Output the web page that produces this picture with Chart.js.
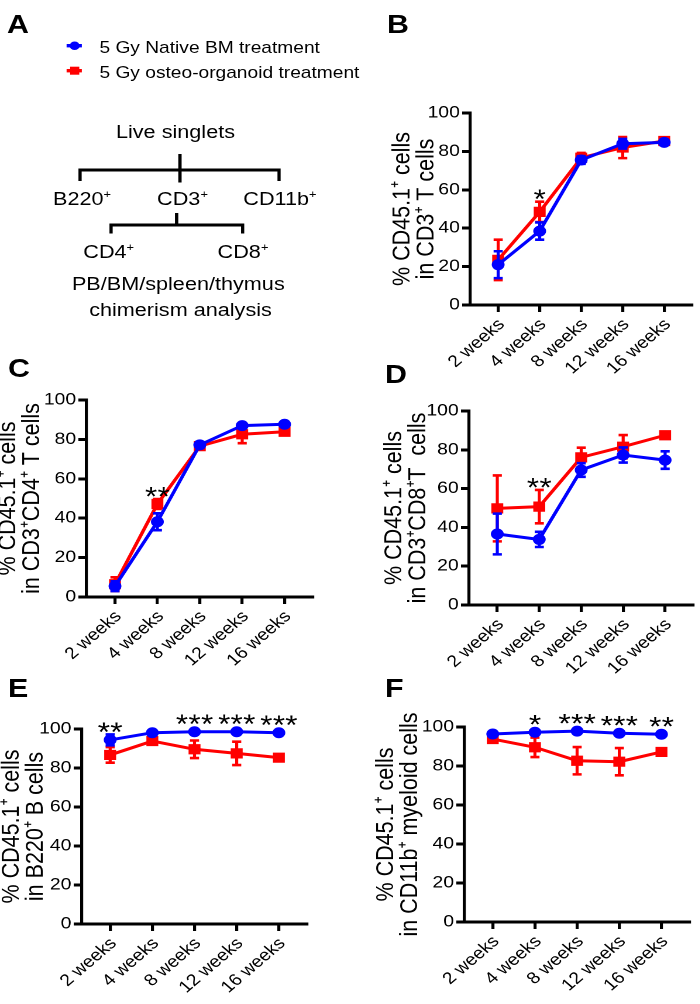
<!DOCTYPE html>
<html><head><meta charset="utf-8">
<script src="https://cdn.jsdelivr.net/npm/chart.js@4.4.1/dist/chart.umd.min.js"></script>
<style>
html,body{margin:0;padding:0;background:#fff;}
body{width:700px;height:1004px;overflow:hidden;position:relative;font-family:'Liberation Sans',Arial,Helvetica,sans-serif;}
#wrap{position:absolute;left:0;top:0;width:599px;height:1004px;transform:scaleX(1.17);transform-origin:0 0;}
#wrap canvas{position:absolute;}
#art{position:absolute;left:0;top:0;z-index:2;}
#art text{font-family:'Liberation Sans',Arial,Helvetica,sans-serif;fill:#000;}
</style></head><body>
<div id="wrap">
<svg id="art" width="599" height="1004" viewBox="0 0 599 1004" xmlns="http://www.w3.org/2000/svg">
  <!-- panel letters -->
  <text x="6" y="33" font-size="26" font-weight="bold">A</text>
  <text x="330.8" y="33" font-size="26" font-weight="bold">B</text>
  <text x="6.8" y="377" font-size="26" font-weight="bold">C</text>
  <text x="329" y="383" font-size="26" font-weight="bold">D</text>
  <text x="6.8" y="697" font-size="26" font-weight="bold">E</text>
  <text x="329" y="697" font-size="26" font-weight="bold">F</text>
  <!-- legend -->
  <line x1="57" y1="45.7" x2="70" y2="45.7" stroke="#0000ff" stroke-width="3.4"/>
  <circle cx="63.8" cy="45.7" r="4.3" fill="#0000ff"/>
  <line x1="57" y1="70.7" x2="70" y2="70.7" stroke="#ff0000" stroke-width="3.4"/>
  <rect x="59.8" y="66.7" width="8" height="8" fill="#ff0000"/>
  <text x="85" y="53.3" font-size="16.4">5 Gy Native BM treatment</text>
  <text x="85" y="78.3" font-size="16.4">5 Gy osteo-organoid treatment</text>
  <!-- gating tree -->
  <text x="150" y="138.3" font-size="18.5" text-anchor="middle">Live singlets</text>
  <path d="M153.8,154 V182.5 M68.4,181 V170 H238.5 V181" fill="none" stroke="#000" stroke-width="2.8"/>
  <text x="70.1" y="205" font-size="18.5" text-anchor="middle">B220<tspan font-size="11" dy="-7">+</tspan></text>
  <text x="156" y="205" font-size="18.5" text-anchor="middle">CD3<tspan font-size="11" dy="-7">+</tspan></text>
  <text x="239.3" y="205" font-size="18.5" text-anchor="middle">CD11b<tspan font-size="11" dy="-7">+</tspan></text>
  <path d="M151,213 V225 M94.9,233.5 V225 H207.4 V233.5" fill="none" stroke="#000" stroke-width="2.8"/>
  <text x="92.9" y="258.3" font-size="18.5" text-anchor="middle">CD4<tspan font-size="11" dy="-7">+</tspan></text>
  <text x="207.7" y="258.3" font-size="18.5" text-anchor="middle">CD8<tspan font-size="11" dy="-7">+</tspan></text>
  <text x="152.4" y="290" font-size="18.5" text-anchor="middle">PB/BM/spleen/thymus</text>
  <text x="154.3" y="316" font-size="18.5" text-anchor="middle">chimerism analysis</text>
</svg>
</div>
<script>
// ---------- data ----------
const weeks = ['2 weeks', '4 weeks', '8 weeks', '12 weeks', '16 weeks'];
const yTicks = [0, 20, 40, 60, 80, 100];

const titleB = ['% CD45.1⁺ cells', 'in CD3⁺ T cells'];
const nativeB = [21, 38.5, 75.5, 84, 84.7];
const nativeErrB = [7, 4.5, 2, 2.5, 1.5];
const organoidB = [23.5, 48.5, 76.7, 82, 85.4];
const organoidErrB = [10.5, 5.3, 2.5, 5.5, 1.5];
const sigB = ['', '*', '', '', ''];

const titleC = ['% CD45.1⁺ cells', 'in CD3⁺CD4⁺ T cells'];
const nativeC = [5.5, 38.2, 77.2, 87, 87.7];
const nativeErrC = [2.5, 4.3, 1.5, 1, 1];
const organoidC = [6.5, 47.2, 76.6, 82.6, 83.9];
const organoidErrC = [3.5, 2.5, 1.5, 4.5, 1.5];
const sigC = ['', '**', '', '', ''];

const titleD = ['% CD45.1⁺ cells', 'in CD3⁺CD8⁺T  cells'];
const nativeD = [36.6, 33.8, 69.6, 77.3, 74.7];
const nativeErrD = [10.5, 3.9, 3.5, 3.9, 4.5];
const organoidD = [49.8, 50.7, 76.1, 81.6, 87.5];
const organoidErrD = [17, 8.6, 5, 6, 1.5];
const sigD = ['', '**', '', '', ''];

const titleE = ['% CD45.1⁺ cells', 'in B220⁺ B cells'];
const nativeE = [94.4, 98.1, 98.6, 98.6, 98.1];
const nativeErrE = [2.8, 0.5, 0.5, 0.5, 0.5];
const organoidE = [86.7, 93.8, 89.6, 87.5, 85.3];
const organoidErrE = [4, 1.5, 4.5, 6, 1.5];
const sigE = ['**', '', '***', '***', '***'];

const titleF = ['% CD45.1⁺ cells', 'in CD11b⁺ myeloid cells'];
const nativeF = [96.4, 97.3, 97.9, 96.8, 96.3];
const nativeErrF = [0.5, 0.5, 0.5, 0.5, 0.5];
const organoidF = [93.8, 89.6, 82.7, 82.2, 87.2];
const organoidErrF = [1, 5, 7, 7, 1.5];
const sigF = ['', '*', '***', '***', '**'];

// ---------- layout / style ----------
const S = 1.17, WY = 84, PT = 40, HX = 85, PR = 3, CAP = 3.9;
const TITLE_FS = 21.5, TICK_FS = 16.5, SIG_FS = 27, SIG_GAP = 10.7;
const BLUE = '#0000ff', RED = '#ff0000';
const FONT = "'Liberation Sans', Arial, Helvetica, sans-serif";
Chart.defaults.font.family = FONT;
Chart.defaults.color = '#000';

const panels = [
  {axisX: 470, right: 697, top: 113, bottom: 305, titleOff: 58, title: titleB, nat: nativeB, natE: nativeErrB, org: organoidB, orgE: organoidErrB, sig: sigB},
  {axisX: 86, right: 318, top: 400, bottom: 597, titleOff: 67, title: titleC, nat: nativeC, natE: nativeErrC, org: organoidC, orgE: organoidErrC, sig: sigC},
  {axisX: 469, right: 698, top: 411, bottom: 605, titleOff: 64, title: titleD, nat: nativeD, natE: nativeErrD, org: organoidD, orgE: organoidErrD, sig: sigD},
  {axisX: 82, right: 312, top: 729, bottom: 924, titleOff: 60, title: titleE, nat: nativeE, natE: nativeErrE, org: organoidE, orgE: organoidErrE, sig: sigE},
  {axisX: 465, right: 696, top: 727, bottom: 922, titleOff: 67, title: titleF, nat: nativeF, natE: nativeErrF, org: organoidF, orgE: organoidErrF, sig: sigF}
];

const errPlugin = {
  id: 'errbars',
  beforeDatasetDraw(chart, args) {
    const ds = chart.data.datasets[args.index];
    const ctx = chart.ctx, xs = chart.scales.x, ys = chart.scales.y;
    ctx.save();
    ctx.strokeStyle = ds.borderColor;
    ctx.lineWidth = 2.6;
    ctx.lineCap = 'butt';
    ds.data.forEach((pt, i) => {
      const e = ds.errors[i];
      if (!e) return;
      const px = xs.getPixelForValue(pt.x);
      const yt = ys.getPixelForValue(pt.y + e);
      const yb = ys.getPixelForValue(pt.y - e);
      ctx.beginPath();
      ctx.moveTo(px, yt); ctx.lineTo(px, yb);
      ctx.moveTo(px - CAP, yt); ctx.lineTo(px + CAP, yt);
      ctx.moveTo(px - CAP, yb); ctx.lineTo(px + CAP, yb);
      ctx.stroke();
    });
    ctx.restore();
  },
  afterDatasetsDraw(chart, args, opts) {
    const sig = opts.sig || [];
    const ctx = chart.ctx, xs = chart.scales.x, ys = chart.scales.y;
    ctx.save();
    ctx.fillStyle = '#000';
    ctx.font = SIG_FS + 'px ' + FONT;
    ctx.textAlign = 'center';
    ctx.textBaseline = 'alphabetic';
    sig.forEach((s, i) => {
      if (!s) return;
      let top = Infinity;
      chart.data.datasets.forEach(ds => {
        const p = ds.data[i];
        top = Math.min(top, ys.getPixelForValue(p.y + ds.errors[i]), ys.getPixelForValue(p.y) - 5);
      });
      const base = top - 9 + 0.57 * SIG_FS;
      const cx = xs.getPixelForValue(i);
      const n = s.length;
      for (let k = 0; k < n; k++) {
        ctx.fillText(s[k], cx + (k - (n - 1) / 2) * SIG_GAP, base);
      }
    });
    ctx.restore();
  }
};

const wrap = document.getElementById('wrap');
panels.forEach(p => {
  const cv = document.createElement('canvas');
  const plotW = (p.right - p.axisX) / S;
  const w = Math.round(WY + plotW + PR);
  const h = PT + (p.bottom - p.top) + HX;
  cv.width = w; cv.height = h;
  cv.style.left = (p.axisX / S - WY) + 'px';
  cv.style.top = (p.top - PT) + 'px';
  cv.style.width = w + 'px';
  cv.style.height = h + 'px';
  wrap.appendChild(cv);
  new Chart(cv, {
    type: 'line',
    data: {
      datasets: [
        {label: '5 Gy Native BM treatment', data: p.nat.map((y, i) => ({x: i, y})), errors: p.natE,
         borderColor: BLUE, backgroundColor: BLUE, pointBackgroundColor: BLUE, pointBorderColor: BLUE,
         pointStyle: 'circle', pointRadius: 5, pointBorderWidth: 1, borderWidth: 3, tension: 0, clip: false},
        {label: '5 Gy osteo-organoid treatment', data: p.org.map((y, i) => ({x: i, y})), errors: p.orgE,
         borderColor: RED, backgroundColor: RED, pointBackgroundColor: RED, pointBorderColor: RED,
         pointStyle: 'rect', pointRadius: 6.5, pointBorderWidth: 1, borderWidth: 3, tension: 0, clip: false}
      ]
    },
    options: {
      responsive: false, animation: false, devicePixelRatio: 2,
      layout: {padding: {top: PT, right: PR, left: 0, bottom: 0}},
      plugins: {legend: {display: false}, tooltip: {enabled: false}, errbars: {sig: p.sig}},
      scales: {
        x: {
          type: 'linear', min: -0.67, max: 4.67,
          afterBuildTicks: s => { s.ticks = weeks.map((_, i) => ({value: i})); },
          afterFit: s => { s.height = HX; },
          ticks: {callback: v => weeks[v] ?? '', font: {size: TICK_FS}, color: '#000', minRotation: 45, maxRotation: 45, padding: 3, labelOffset: 3, autoSkip: false},
          grid: {display: true, drawOnChartArea: false, drawTicks: true, tickLength: 7, tickWidth: 2.6, lineWidth: 2.6, tickColor: '#000', color: '#000'},
          border: {display: true, color: '#000', width: 3}
        },
        y: {
          min: 0, max: 100,
          afterBuildTicks: s => { s.ticks = yTicks.map(v => ({value: v})); },
          afterFit: s => { s.width = WY; },
          ticks: {font: {size: TICK_FS}, color: '#000', padding: 2},
          grid: {display: true, drawOnChartArea: false, drawTicks: true, tickLength: 7, tickWidth: 3, lineWidth: 3, tickColor: '#000', color: '#000'},
          border: {display: true, color: '#000', width: 2.6},
          title: {display: true, text: p.title, color: '#000', font: {size: TITLE_FS, lineHeight: 0.95},
                  padding: {top: WY - p.titleOff - TITLE_FS * 0.95 / 2, bottom: 0}}
        }
      }
    },
    plugins: [errPlugin]
  });
});
</script>
</body></html>
